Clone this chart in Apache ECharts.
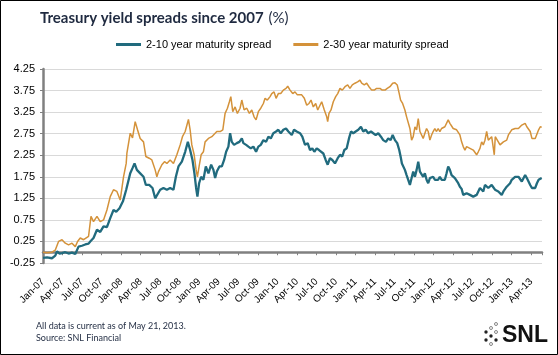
<!DOCTYPE html>
<html>
<head>
<meta charset="utf-8">
<script src="https://cdn.jsdelivr.net/npm/echarts@6/dist/echarts.min.js"></script>
<style>
html,body{margin:0;padding:0;background:#fff;}
#c{width:558px;height:355px;}
</style>
</head>
<body>
<div id="c"></div>
<script>
// x positions are months since Jan 2007 (fractional), values in %
var monthNames = ['Jan','Feb','Mar','Apr','May','Jun','Jul','Aug','Sep','Oct','Nov','Dec'];
var yTicks = [-0.25,0.25,0.75,1.25,1.75,2.25,2.75,3.25,3.75,4.25];
var seriesNames = ['2-10 year maturity spread','2-30 year maturity spread'];

var tealMonths = [0,0.61,1.38,1.89,2.15,2.55,2.92,3.42,3.93,4.45,4.96,5.46,5.98,6.49,7.0,7.26,7.76,8.29,8.79,9.3,9.82,10.33,10.83,11.25,11.75,12.28,12.78,
13.4,13.75,14.06,14.42,14.93,15.44,15.8,16.31,16.82,17.23,17.49,18.0,18.5,19.03,19.53,20.04,20.41,20.81,21.33,21.84,22.25,22.6,22.96,23.26,23.52,23.72,23.98,24.29,24.64,25.01,25.41,25.83,26.18,
26.44,26.7,27.1,27.47,27.82,28.13,28.48,28.74,29.0,29.35,29.77,30.17,30.54,30.78,31.2,31.55,31.92,32.32,32.73,33.08,33.45,33.85,34.26,34.62,34.99,35.38,35.8,36.15,36.52,36.92,37.33,37.69,38.21,38.56,38.97,39.48,
39.83,40.25,40.66,41.02,41.37,41.68,42.04,42.4,42.7,43.06,43.42,43.73,44.08,44.44,44.85,45.27,45.62,45.97,46.28,46.65,47.0,47.31,47.66,48.03,48.43,48.84,49.19,49.56,49.96,50.38,50.73,51.1,51.5,51.91,52.26,
52.53,52.68,53.03,53.4,53.71,54.06,54.41,54.72,54.93,55.13,55.33,55.59,55.85,56.1,56.36,56.62,56.87,57.13,57.39,57.64,57.9,58.16,58.4,58.66,58.92,59.17,59.43,59.69,59.93,60.19,60.45,60.7,60.96,61.22,61.47,61.73,61.99,62.24,62.5,62.76,63.01,63.27,63.53,63.78,64.04,64.3,64.55,
64.81,65.07,65.32,65.58,65.84,66.09,66.35,66.61,66.86,67.12,67.38,67.63,67.89,68.15,68.4,68.66,68.92,69.17,69.43,69.69,69.94,70.2,70.46,70.72,70.97,71.23,71.49,71.75,72.0,72.26,72.52,72.78,73.03,73.29,73.55,73.81,74.06,74.32,74.58,74.84,75.1,75.35,75.61,75.87,76.13,76.38,76.6];
var tealValues = [-0.13,-0.12,-0.14,-0.08,0.02,-0.03,-0.02,0.0,-0.03,-0.01,-0.04,0.13,0.15,0.18,0.2,0.25,0.33,0.52,0.47,0.6,0.58,0.79,0.98,0.94,1.02,1.18,1.45,
1.83,1.95,2.06,1.91,1.83,1.75,1.56,1.56,1.49,1.25,1.21,1.45,1.49,1.45,1.49,1.45,1.75,1.99,2.1,2.33,2.56,2.37,2.14,1.83,1.49,1.29,1.6,1.75,1.68,1.99,1.83,2.03,1.91,
1.72,1.87,1.99,1.99,2.14,2.33,2.45,2.76,2.56,2.49,2.53,2.56,2.64,2.53,2.49,2.45,2.41,2.45,2.33,2.45,2.49,2.6,2.56,2.68,2.64,2.76,2.8,2.84,2.76,2.84,2.87,2.8,2.72,2.84,2.8,2.76,
2.68,2.49,2.53,2.37,2.41,2.33,2.41,2.37,2.33,2.29,2.14,2.03,2.18,2.14,2.06,2.18,2.26,2.22,2.37,2.41,2.64,2.8,2.76,2.8,2.84,2.91,2.8,2.84,2.76,2.8,2.76,2.72,2.76,2.68,2.6,
2.56,2.56,2.64,2.6,2.72,2.6,2.53,2.37,2.22,2.06,2.06,1.91,1.79,1.68,1.56,1.72,1.87,1.75,1.91,2.1,1.87,1.83,1.75,1.83,1.68,1.6,1.72,1.68,1.75,1.68,1.72,1.68,1.75,1.68,1.72,1.68,1.83,1.99,1.91,1.79,1.75,1.72,1.68,1.6,1.52,1.47,1.33,
1.33,1.37,1.33,1.33,1.29,1.29,1.25,1.33,1.37,1.49,1.52,1.41,1.56,1.6,1.49,1.45,1.56,1.52,1.45,1.49,1.41,1.37,1.33,1.41,1.37,1.52,1.56,1.6,1.68,1.64,1.75,1.72,1.75,1.72,1.64,1.68,1.79,1.72,1.64,1.56,1.49,1.52,1.49,1.6,1.68,1.72,1.72];

var orangeMonths = [0,0.61,1.38,1.89,2.39,2.92,3.42,3.93,4.45,4.96,5.31,5.72,6.23,6.49,7.0,7.37,7.76,8.29,8.79,9.3,9.82,10.33,10.83,11.35,11.86,12.37,12.78,12.89,
13.4,13.75,14.16,14.52,14.93,15.44,15.8,16.31,16.72,17.23,17.49,17.74,18.26,18.66,19.03,19.53,20.04,20.56,21.07,21.42,21.84,22.34,22.6,22.86,23.22,23.52,23.72,23.98,24.29,24.64,24.9,25.41,25.93,
26.7,27.21,27.62,27.97,28.33,28.63,28.85,29.15,29.51,29.86,30.27,30.54,30.89,31.3,31.7,32.07,32.42,32.73,33.08,33.45,33.85,34.11,34.46,34.88,35.14,35.49,35.8,36.15,36.52,36.92,37.33,37.59,37.95,38.36,38.71,39.07,
39.74,40.14,40.51,40.86,41.17,41.52,41.89,42.2,42.55,42.81,43.21,43.58,43.73,43.93,44.24,44.59,44.96,45.27,45.62,45.97,46.39,46.8,47.15,47.51,47.92,48.33,48.69,48.95,49.35,49.72,50.07,50.49,50.88,51.25,51.76,52.11,
52.53,52.88,53.29,53.71,54.06,54.41,54.72,54.93,55.24,55.59,55.85,56.1,56.36,56.62,56.87,57.13,57.39,57.64,57.9,58.16,58.4,58.66,58.92,59.17,59.43,59.69,59.93,60.19,60.45,60.7,60.96,61.22,61.47,61.73,61.99,62.24,62.5,62.76,63.01,63.27,63.53,63.78,64.04,64.3,64.55,
64.81,65.07,65.32,65.58,65.84,66.09,66.35,66.61,66.86,67.12,67.38,67.63,67.89,68.15,68.4,68.66,68.92,69.17,69.32,69.47,69.69,69.94,70.2,70.46,70.72,70.97,71.23,71.49,71.75,72.0,72.26,72.52,72.78,73.03,73.29,73.55,73.81,74.06,74.32,74.58,74.84,75.1,75.35,75.61,75.87,76.13,76.38,76.6];
var orangeValues = [0.0,-0.01,0.0,0.05,0.25,0.29,0.21,0.17,0.21,0.13,0.25,0.33,0.29,0.31,0.37,0.83,0.71,0.83,0.71,0.75,0.98,1.29,1.45,1.41,1.21,1.75,2.06,2.3,
2.76,2.65,3.03,2.84,2.64,2.56,2.22,2.18,2.14,1.91,1.75,1.87,2.03,2.1,2.06,2.14,2.06,2.26,2.49,2.68,2.8,3.08,2.84,2.49,2.26,1.91,1.75,1.99,2.26,2.33,2.56,2.64,2.68,
2.8,2.8,2.84,3.22,3.34,3.49,3.61,3.26,3.37,3.22,3.34,3.53,3.3,3.34,3.22,3.3,3.14,3.07,3.26,3.34,3.45,3.57,3.53,3.61,3.68,3.72,3.57,3.68,3.68,3.76,3.8,3.85,3.76,3.68,3.72,3.65,
3.65,3.57,3.41,3.45,3.53,3.37,3.45,3.3,3.41,3.49,3.3,3.14,3.03,3.22,3.3,3.49,3.61,3.68,3.8,3.76,3.84,3.88,3.8,3.88,3.92,3.95,3.99,3.92,3.88,3.92,3.84,3.76,3.76,3.8,3.8,3.76,
3.76,3.8,3.84,3.92,3.93,3.88,3.68,3.53,3.45,3.3,3.14,3.18,2.87,2.6,2.68,2.91,2.84,3.1,2.8,2.84,2.64,2.76,2.87,2.8,2.6,2.72,2.8,2.87,2.8,2.87,2.8,2.87,2.84,2.91,2.95,3.07,2.99,2.95,2.87,2.91,2.84,2.8,2.72,2.56,2.45,
2.37,2.45,2.41,2.41,2.37,2.37,2.33,2.26,2.33,2.41,2.56,2.49,2.6,2.8,2.6,2.56,2.68,2.72,2.26,2.68,2.64,2.56,2.49,2.53,2.56,2.6,2.6,2.72,2.68,2.84,2.8,2.87,2.91,2.87,2.84,2.95,2.91,2.99,2.91,2.87,2.8,2.64,2.68,2.64,2.68,2.84,2.91,2.9];

function zip(xs, ys){ var out=[]; for(var i=0;i<xs.length;i++){ out.push([xs[i], ys[i]]); } return out; }
function monthLabel(v){
  if (Math.abs(v - Math.round(v)) > 1e-6) return '';
  var m = Math.round(v);
  var yy = 7 + Math.floor(m/12);
  return monthNames[m%12] + '-' + (yy<10?'0':'') + yy;
}

var chart = echarts.init(document.getElementById('c'), null, {renderer:'canvas'});
var xMax = 76.65;
var option = {
  backgroundColor:'#fff',
  animation:false,
  title:{
    text:'{b|Treasury yield spreads since 2007} {n|(%)}',
    left:35, top:4,
    textStyle:{rich:{
      b:{fontFamily:'Lato', fontWeight:'bold', fontSize:15, color:'#1f2a40'},
      n:{fontFamily:'Lato', fontWeight:'normal', fontSize:15, color:'#1f2a40'}
    }}
  },
  legend:{
    left:116, top:39, padding:0, icon:'rect', itemWidth:25, itemHeight:3, itemGap:22,
    textStyle:{fontFamily:'Liberation Sans', fontSize:11, color:'#000'},
    data:[seriesNames[0], seriesNames[1]]
  },
  grid:{left:43, right:16, top:69, bottom:92, containLabel:false},
  xAxis:[{
    type:'value', min:0, max:xMax, interval:3,
    axisLine:{show:false, onZero:false}, axisTick:{show:false}, splitLine:{show:false},
    axisLabel:{rotate:45, margin:17, fontFamily:'Liberation Sans', fontSize:10, color:'#000', formatter:monthLabel, showMaxLabel:false}
  },{
    type:'value', min:0, max:xMax, interval:3, position:'bottom',
    axisLine:{show:true, onZero:true, lineStyle:{color:'#808080', width:2.5}},
    axisTick:{show:true, length:3, lineStyle:{color:'#808080', width:1}},
    axisLabel:{show:false}, splitLine:{show:false}
  }],
  yAxis:{
    type:'value', min:-0.25, max:4.25, interval:0.5,
    axisLine:{show:true, onZero:false, lineStyle:{color:'#808080', width:2.5}},
    axisTick:{show:true, length:3, lineStyle:{color:'#808080'}},
    splitLine:{show:true, lineStyle:{color:'#d9d9d9', width:1}},
    axisLabel:{margin:8, fontFamily:'Liberation Sans', fontSize:11, color:'#000', formatter:function(v){return v.toFixed(2);}}
  },
  series:[{
    name:seriesNames[1], type:'line', xAxisIndex:0, showSymbol:false, symbol:'none',
    lineStyle:{color:'#d4923a', width:1.5}, itemStyle:{color:'#d4923a'},
    data:zip(orangeMonths, orangeValues), z:2
  },{
    name:seriesNames[0], type:'line', xAxisIndex:0, showSymbol:false, symbol:'none',
    lineStyle:{color:'#216b7e', width:2.3}, itemStyle:{color:'#216b7e'},
    data:zip(tealMonths, tealValues), z:3
  }],
  graphic:[
    {type:'rect', shape:{x:0.5,y:0.5,width:557,height:354}, style:{fill:'none', stroke:'#000', lineWidth:1}, silent:true},
    {type:'text', left:36, top:322, style:{text:'All data is current as of May 21, 2013.', font:'9px Lato', fill:'#1f2a40'}},
    {type:'text', left:36, top:334, style:{text:'Source: SNL Financial', font:'9px Lato', fill:'#1f2a40'}},
    {type:'text', left:502, top:324, style:{text:'SNL', font:'bold 23px "Liberation Sans"', fill:'#111'}},
    {type:'circle', shape:{cx:486,cy:332,r:1.7}, style:{fill:'#222'}},
    {type:'circle', shape:{cx:491,cy:336,r:1.7}, style:{fill:'#222'}},
    {type:'circle', shape:{cx:486,cy:340,r:1.7}, style:{fill:'#222'}},
    {type:'circle', shape:{cx:496,cy:340,r:1.7}, style:{fill:'#222'}},
    {type:'circle', shape:{cx:491,cy:328,r:1.5}, style:{fill:'none', stroke:'#555', lineWidth:0.7}},
    {type:'circle', shape:{cx:496,cy:324,r:1.5}, style:{fill:'none', stroke:'#555', lineWidth:0.7}},
    {type:'circle', shape:{cx:496,cy:332,r:1.5}, style:{fill:'none', stroke:'#555', lineWidth:0.7}},
    {type:'circle', shape:{cx:491,cy:344,r:1.5}, style:{fill:'none', stroke:'#555', lineWidth:0.7}}
  ]
};
chart.setOption(option);
</script>
</body>
</html>
